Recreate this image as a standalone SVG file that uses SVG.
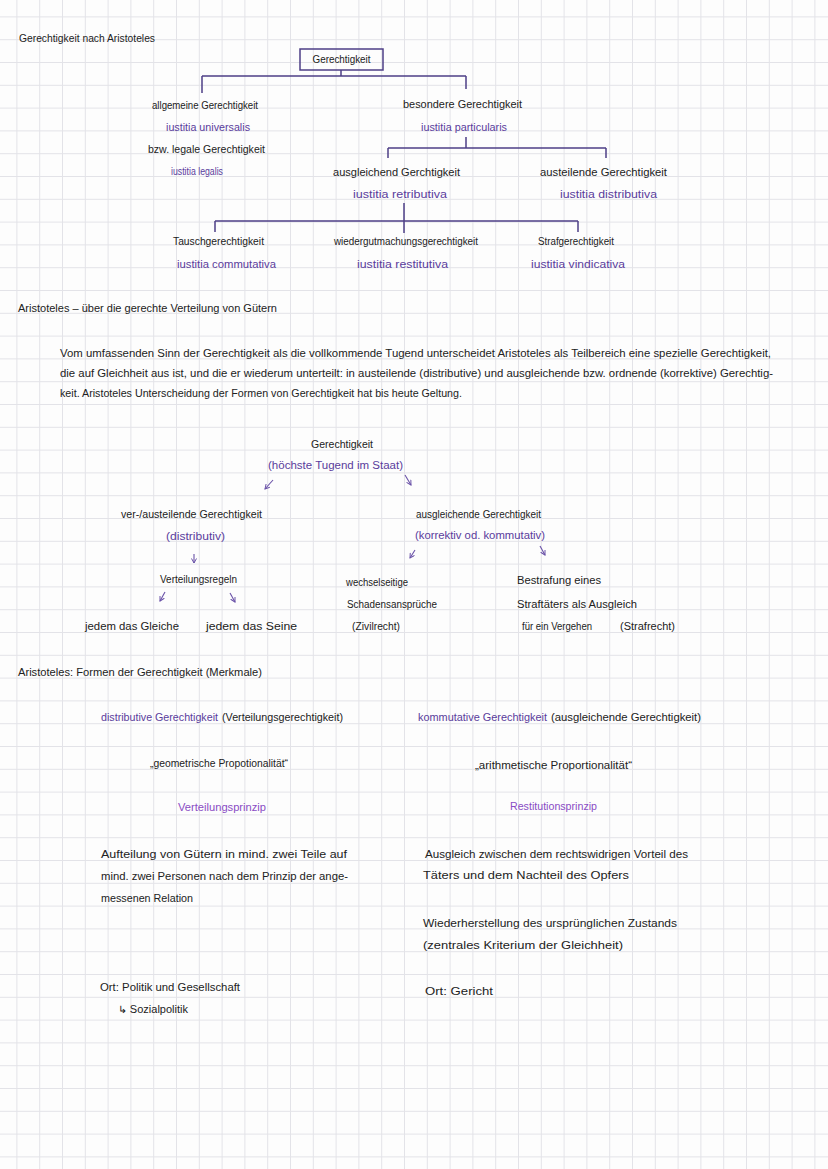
<svg xmlns="http://www.w3.org/2000/svg" width="828" height="1169" viewBox="0 0 828 1169">
<style>
.t{font-family:"Liberation Sans",Arial,sans-serif;font-size:10px;fill:#222}
.p{fill:#5a3c9c}
.v{fill:#8a4cc4}
.ln{stroke:#4e3f86;stroke-width:1.5;fill:none}
.ar{stroke:#6a52a8;stroke-width:1.1;fill:none;marker-end:url(#ah)}
</style>
<defs>
<pattern id="grid" x="16.4" y="16.4" width="22.8" height="22.8" patternUnits="userSpaceOnUse">
<path d="M0 0.5H22.8M0.5 0V22.8" stroke="#e3e3e8" stroke-width="1"/>
</pattern>
<marker id="ah" markerWidth="6" markerHeight="6" refX="5" refY="3" orient="auto" markerUnits="userSpaceOnUse">
<path d="M0.5 0.5L5 3L0.5 5.5" stroke="#6a52a8" stroke-width="1" fill="none"/>
</marker>
</defs>
<rect width="828" height="1169" fill="#fdfdfd"/>
<rect width="828" height="1169" fill="url(#grid)"/>

<g id="title1"><text class="t" x="19" y="42" textLength="136" lengthAdjust="spacingAndGlyphs">Gerechtigkeit nach Aristoteles</text></g>

<g id="connectors">
<path class="ln" d="M341 70V76M202 76H466M202 76V93M466 76V89"/>
<path class="ln" d="M466 137V148M388 148H606M388 148V158M606 148V158"/>
<path class="ln" d="M404 203V233M215 221H578M215 221V232M578 221V232"/>
<path class="ar" d="M273 480L265 489"/>
<path class="ar" d="M405 475L411 485"/>
<path class="ar" d="M194 554V563"/>
<path class="ar" d="M165 592L160 601"/>
<path class="ar" d="M230 593L235 602"/>
<path class="ar" d="M415 550L410 558"/>
<path class="ar" d="M540 546L545 555"/>
</g>

<g id="n-root"><rect x="300" y="49" width="83" height="21" fill="none" stroke="#4e3f86" stroke-width="1.5"/><text class="t" x="341.5" y="63" text-anchor="middle" textLength="58" lengthAdjust="spacingAndGlyphs">Gerechtigkeit</text></g>

<g id="n-allgemein">
<text class="t" x="152" y="109" textLength="106" lengthAdjust="spacingAndGlyphs">allgemeine Gerechtigkeit</text>
<text class="t p" x="166" y="131" textLength="84" lengthAdjust="spacingAndGlyphs">iustitia universalis</text>
<text class="t" x="148" y="153" textLength="117" lengthAdjust="spacingAndGlyphs">bzw. legale Gerechtigkeit</text>
<text class="t p" x="171" y="175" textLength="52" lengthAdjust="spacingAndGlyphs">iustitia legalis</text>
</g>
<g id="n-besonders">
<text class="t" x="403" y="108" textLength="119" lengthAdjust="spacingAndGlyphs">besondere Gerechtigkeit</text>
<text class="t p" x="421" y="131" textLength="86" lengthAdjust="spacingAndGlyphs">iustitia particularis</text>
</g>
<g id="n-ausgleichend">
<text class="t" x="333" y="176" textLength="127" lengthAdjust="spacingAndGlyphs">ausgleichend Gerchtigkeit</text>
<text class="t p" x="353" y="198" textLength="94" lengthAdjust="spacingAndGlyphs">iustitia retributiva</text>
</g>
<g id="n-austeilend">
<text class="t" x="540" y="176" textLength="127" lengthAdjust="spacingAndGlyphs">austeilende Gerechtigkeit</text>
<text class="t p" x="560" y="198" textLength="97" lengthAdjust="spacingAndGlyphs">iustitia distributiva</text>
</g>
<g id="n-tausch">
<text class="t" x="173" y="245" textLength="91" lengthAdjust="spacingAndGlyphs">Tauschgerechtigkeit</text>
<text class="t p" x="177" y="268" textLength="99" lengthAdjust="spacingAndGlyphs">iustitia commutativa</text>
</g>
<g id="n-wieder">
<text class="t" x="334" y="245" textLength="144" lengthAdjust="spacingAndGlyphs">wiedergutmachungsgerechtigkeit</text>
<text class="t p" x="357" y="268" textLength="91" lengthAdjust="spacingAndGlyphs">iustitia restitutiva</text>
</g>
<g id="n-straf">
<text class="t" x="538" y="245" textLength="76" lengthAdjust="spacingAndGlyphs">Strafgerechtigkeit</text>
<text class="t p" x="531" y="268" textLength="94" lengthAdjust="spacingAndGlyphs">iustitia vindicativa</text>
</g>

<g id="heading2"><text class="t" x="18" y="312" textLength="259" lengthAdjust="spacingAndGlyphs">Aristoteles – über die gerechte Verteilung von Gütern</text></g>
<g id="paragraph">
<text class="t" x="60" y="357" textLength="711" lengthAdjust="spacingAndGlyphs">Vom umfassenden Sinn der Gerechtigkeit als die vollkommende Tugend unterscheidet Aristoteles als Teilbereich eine spezielle Gerechtigkeit,</text>
<text class="t" x="60" y="377" textLength="713" lengthAdjust="spacingAndGlyphs">die auf Gleichheit aus ist, und die er wiederum unterteilt: in austeilende (distributive) und ausgleichende bzw. ordnende (korrektive) Gerechtig-</text>
<text class="t" x="60" y="397" textLength="402" lengthAdjust="spacingAndGlyphs">keit. Aristoteles Unterscheidung der Formen von Gerechtigkeit hat bis heute Geltung.</text>
</g>

<g id="m-root">
<text class="t" x="311" y="448" textLength="62" lengthAdjust="spacingAndGlyphs">Gerechtigkeit</text>
<text class="t p" x="268" y="469" textLength="135" lengthAdjust="spacingAndGlyphs">(höchste Tugend im Staat)</text>
</g>
<g id="m-verteil">
<text class="t" x="121" y="518" textLength="141" lengthAdjust="spacingAndGlyphs">ver-/austeilende Gerechtigkeit</text>
<text class="t p" x="166" y="540" textLength="59" lengthAdjust="spacingAndGlyphs">(distributiv)</text>
</g>
<g id="m-regeln"><text class="t" x="160" y="583" textLength="77" lengthAdjust="spacingAndGlyphs">Verteilungsregeln</text></g>
<g id="m-gleiche"><text class="t" x="85" y="630" textLength="94" lengthAdjust="spacingAndGlyphs">jedem das Gleiche</text></g>
<g id="m-seine"><text class="t" x="206" y="630" textLength="91" lengthAdjust="spacingAndGlyphs">jedem das Seine</text></g>
<g id="m-ausgleich">
<text class="t" x="416" y="518" textLength="125" lengthAdjust="spacingAndGlyphs">ausgleichende Gerechtigkeit</text>
<text class="t p" x="415" y="539" textLength="130" lengthAdjust="spacingAndGlyphs">(korrektiv od. kommutativ)</text>
</g>
<g id="m-zivil">
<text class="t" x="346" y="586" textLength="62" lengthAdjust="spacingAndGlyphs">wechselseitige</text>
<text class="t" x="347" y="608" textLength="90" lengthAdjust="spacingAndGlyphs">Schadensansprüche</text>
<text class="t" x="352" y="630" textLength="48" lengthAdjust="spacingAndGlyphs">(Zivilrecht)</text>
</g>
<g id="m-straf">
<text class="t" x="517" y="584" textLength="84" lengthAdjust="spacingAndGlyphs">Bestrafung eines</text>
<text class="t" x="517" y="608" textLength="120" lengthAdjust="spacingAndGlyphs">Straftäters als Ausgleich</text>
<text class="t" x="522" y="630" textLength="70" lengthAdjust="spacingAndGlyphs">für ein Vergehen</text>
<text class="t" x="620" y="630" textLength="55" lengthAdjust="spacingAndGlyphs">(Strafrecht)</text>
</g>

<g id="heading3"><text class="t" x="18" y="676" textLength="244" lengthAdjust="spacingAndGlyphs">Aristoteles: Formen der Gerechtigkeit (Merkmale)</text></g>

<g id="c-distributiv">
<text class="t" x="101" y="721"><tspan class="p" textLength="117" lengthAdjust="spacingAndGlyphs">distributive Gerechtigkeit</tspan><tspan x="222" textLength="121" lengthAdjust="spacingAndGlyphs">(Verteilungsgerechtigkeit)</tspan></text>
<text class="t" x="150" y="767" textLength="138" lengthAdjust="spacingAndGlyphs">„geometrische Propotionalität“</text>
<text class="t v" x="178" y="811" textLength="88" lengthAdjust="spacingAndGlyphs">Verteilungsprinzip</text>
<text class="t" x="101" y="858" textLength="246" lengthAdjust="spacingAndGlyphs">Aufteilung von Gütern in mind. zwei Teile auf</text>
<text class="t" x="101" y="880" textLength="247" lengthAdjust="spacingAndGlyphs">mind. zwei Personen nach dem Prinzip der ange-</text>
<text class="t" x="101" y="902" textLength="92" lengthAdjust="spacingAndGlyphs">messenen Relation</text>
<text class="t" x="100" y="991" textLength="140" lengthAdjust="spacingAndGlyphs">Ort: Politik und Gesellschaft</text>
<text class="t" x="118" y="1013" textLength="70" lengthAdjust="spacingAndGlyphs">↳ Sozialpolitik</text>
</g>

<g id="c-kommutativ">
<text class="t" x="418" y="721"><tspan class="p" textLength="129" lengthAdjust="spacingAndGlyphs">kommutative Gerechtigkeit</tspan><tspan x="551" textLength="150" lengthAdjust="spacingAndGlyphs">(ausgleichende Gerechtigkeit)</tspan></text>
<text class="t" x="475" y="769" textLength="157" lengthAdjust="spacingAndGlyphs">„arithmetische Proportionalität“</text>
<text class="t v" x="510" y="810" textLength="87" lengthAdjust="spacingAndGlyphs">Restitutionsprinzip</text>
<text class="t" x="425" y="858" textLength="263" lengthAdjust="spacingAndGlyphs">Ausgleich zwischen dem rechtswidrigen Vorteil des</text>
<text class="t" x="423" y="879" textLength="206" lengthAdjust="spacingAndGlyphs">Täters und dem Nachteil des Opfers</text>
<text class="t" x="423" y="927" textLength="254" lengthAdjust="spacingAndGlyphs">Wiederherstellung des ursprünglichen Zustands</text>
<text class="t" x="423" y="949" textLength="200" lengthAdjust="spacingAndGlyphs">(zentrales Kriterium der Gleichheit)</text>
<text class="t" x="425" y="995" textLength="68" lengthAdjust="spacingAndGlyphs">Ort: Gericht</text>
</g>
</svg>
